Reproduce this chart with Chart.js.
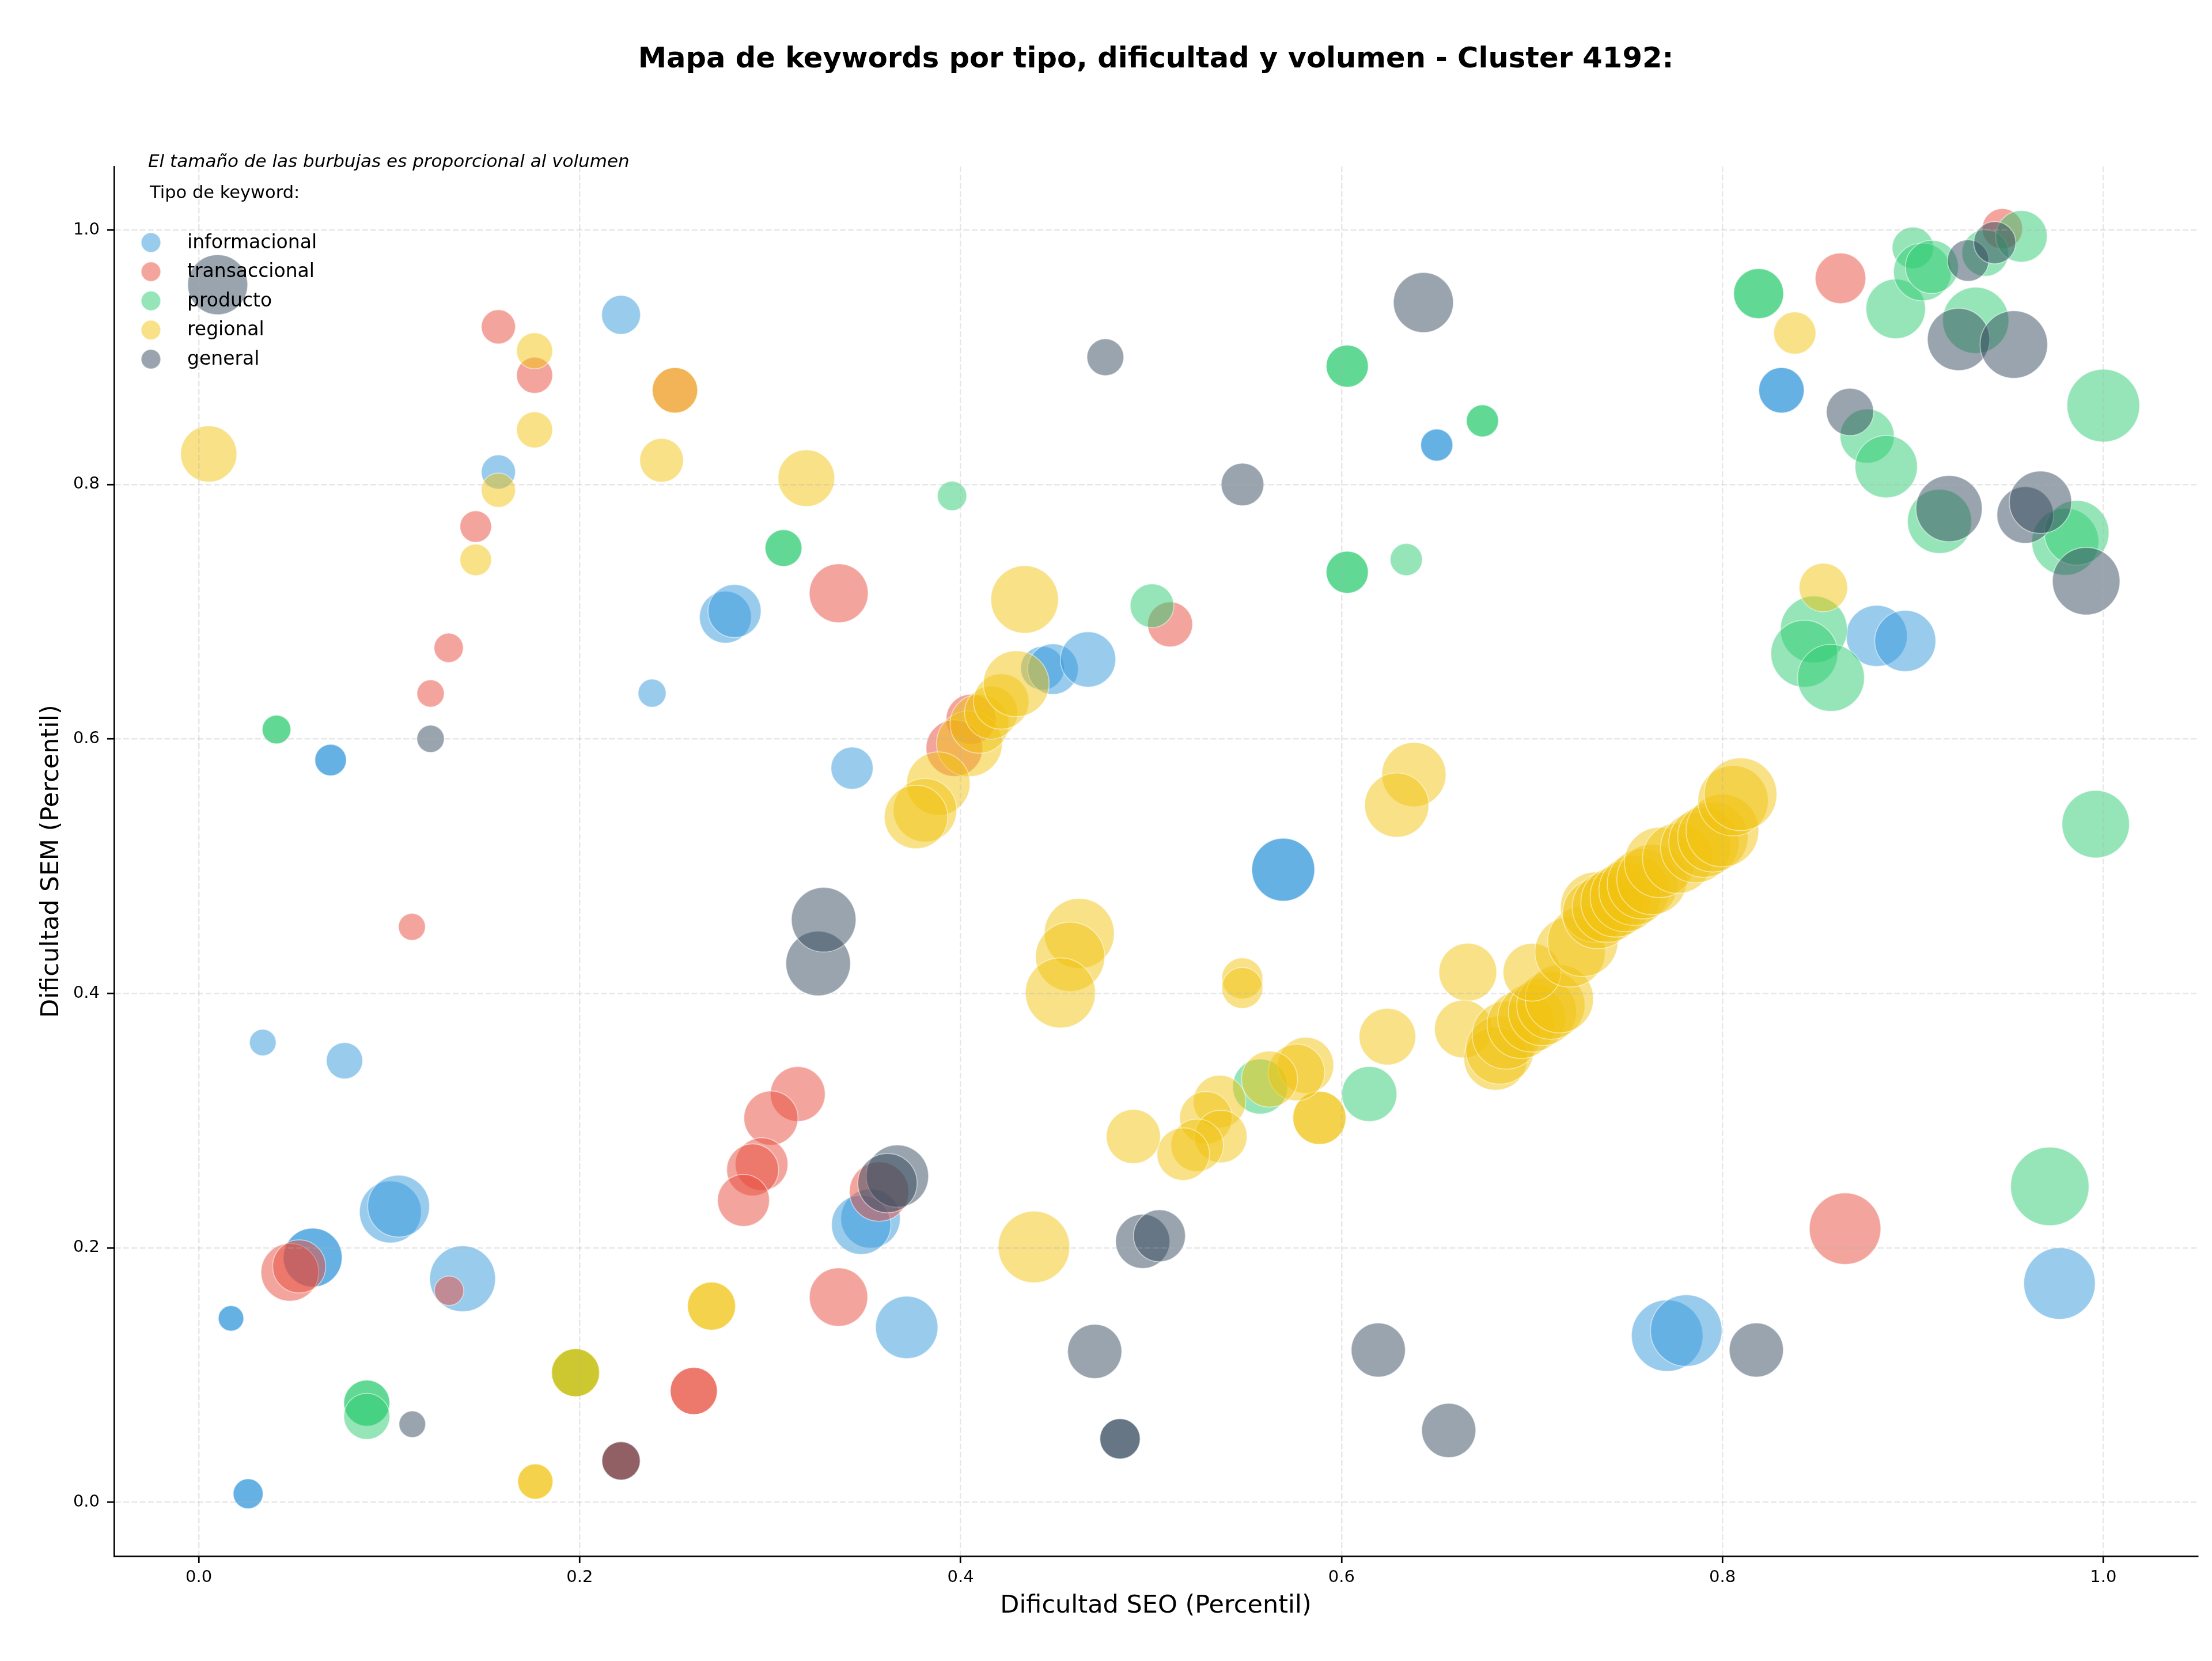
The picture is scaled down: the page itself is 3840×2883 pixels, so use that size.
<!DOCTYPE html>
<html>
<head>
<meta charset="utf-8">
<script src="https://cdn.jsdelivr.net/npm/chart.js@4.4.1/dist/chart.umd.min.js"></script>
<style>
  html, body { margin: 0; padding: 0; background: #ffffff; }
  #wrap { width: 3840px; height: 2883px; }
</style>
</head>
<body>
<div id="wrap"><canvas id="chart" width="3840" height="2883"></canvas></div>
<script>
// Mapa de keywords - bubble chart (x: dificultad SEO, y: dificultad SEM, tamaño: volumen)

const categories = ['informacional', 'transaccional', 'producto', 'regional', 'general'];
const colors = ['#3498db', '#e74c3c', '#2ecc71', '#f1c40f', '#34495e'];

const xTickValues = [0, 0.2, 0.4, 0.6, 0.8, 1.0];
const yTickValues = [0, 0.2, 0.4, 0.6, 0.8, 1.0];

// [dificultad SEO, dificultad SEM, volumen]
const informacional = [
    [0.2217, 0.9333, 790], [0.1573, 0.8098, 610],
    [0.0692, 0.5834, 520], [0.0692, 0.5834, 520],
    [0.2380, 0.6360, 410], [0.2765, 0.6957, 1410], [0.2813, 0.7005, 1470],
    [0.3430, 0.5770, 930], [0.4430, 0.6556, 1000], [0.4485, 0.6549, 1340],
    [0.4669, 0.6625, 1600],
    [0.6500, 0.8310, 540], [0.6500, 0.8310, 540],
    [0.8310, 0.8740, 1080], [0.8310, 0.8740, 1080],
    [0.8810, 0.6810, 1950], [0.8960, 0.6770, 1950],
    [0.5694, 0.4972, 2070], [0.5694, 0.4972, 2070],
    [0.0336, 0.3614, 370], [0.0765, 0.3471, 690],
    [0.1006, 0.2282, 2000], [0.1049, 0.2328, 2000], [0.1385, 0.1757, 2260],
    [0.0598, 0.1924, 1810], [0.0598, 0.1924, 1810],
    [0.0169, 0.1446, 340], [0.0169, 0.1446, 340],
    [0.0259, 0.0067, 470], [0.0259, 0.0067, 470],
    [0.3527, 0.2231, 1840], [0.3478, 0.2182, 1840], [0.3717, 0.1375, 2030],
    [0.7710, 0.1310, 2670], [0.7810, 0.1350, 2670], [0.9770, 0.1720, 2670]
];

const transaccional = [
    [0.1573, 0.9239, 610], [0.1763, 0.8858, 680], [0.1454, 0.7669, 520],
    [0.1312, 0.6716, 450], [0.1217, 0.6357, 390], [0.2500, 0.8740, 1080],
    [0.3360, 0.7145, 1810], [0.5100, 0.6900, 1060], [0.8620, 0.9620, 1340],
    [0.9470, 1.0010, 850], [0.4055, 0.6155, 1310], [0.3967, 0.5928, 1670],
    [0.1119, 0.4523, 380], [0.1314, 0.1663, 450],
    [0.0478, 0.1808, 1740], [0.0527, 0.1854, 1470],
    [0.3145, 0.3209, 1570], [0.3004, 0.3020, 1530], [0.2955, 0.2658, 1450],
    [0.2908, 0.2613, 1410], [0.2860, 0.2373, 1410], [0.3572, 0.2442, 1840],
    [0.3359, 0.1613, 1780],
    [0.2599, 0.0875, 1160], [0.2599, 0.0875, 1160],
    [0.2217, 0.0326, 770], [0.2217, 0.0326, 770],
    [0.8644, 0.2151, 2670]
];

const producto = [
    [0.0408, 0.6074, 430], [0.0408, 0.6074, 430],
    [0.3070, 0.7500, 710], [0.3070, 0.7500, 710],
    [0.3955, 0.7910, 450], [0.5005, 0.7047, 1000],
    [0.6030, 0.8930, 930], [0.6030, 0.8930, 930],
    [0.6740, 0.8500, 540], [0.6740, 0.8500, 540],
    [0.6030, 0.7310, 930], [0.6030, 0.7310, 930],
    [0.6340, 0.7410, 540],
    [0.8190, 0.9500, 1310], [0.8190, 0.9500, 1310],
    [0.8760, 0.8380, 1530], [0.8860, 0.8140, 2030], [0.8910, 0.9380, 1850],
    [0.9000, 0.9860, 900], [0.9050, 0.9670, 1740], [0.9100, 0.9710, 1470],
    [0.9380, 0.9820, 1140], [0.9570, 0.9950, 1390], [0.9330, 0.9290, 2290],
    [1.0000, 0.8620, 2760], [0.9140, 0.7710, 2150], [0.9800, 0.7550, 2340],
    [0.9860, 0.7620, 2180], [0.8480, 0.6860, 2340], [0.8430, 0.6670, 2340],
    [0.8570, 0.6480, 2340], [0.9960, 0.5330, 2380], [0.9719, 0.2483, 3210],
    [0.1978, 0.1019, 1210], [0.1978, 0.1019, 1210],
    [0.0882, 0.0780, 1110], [0.0882, 0.0780, 1110], [0.0882, 0.0676, 1110],
    [0.6146, 0.3209, 1580], [0.5573, 0.3268, 1580]
];

const regional = [
    [0.0052, 0.8240, 1650], [0.1763, 0.9050, 680], [0.1763, 0.8429, 680],
    [0.1573, 0.7955, 610], [0.1454, 0.7407, 520], [0.2500, 0.8740, 1080],
    [0.2430, 0.8190, 1000], [0.3190, 0.8050, 1670], [0.4336, 0.7096, 2380],
    [0.8530, 0.7190, 1230], [0.8380, 0.9190, 930],
    [0.4046, 0.5963, 2260], [0.4099, 0.6119, 1810], [0.4160, 0.6207, 1470],
    [0.4213, 0.6294, 1600], [0.4292, 0.6434, 2260], [0.3883, 0.5649, 2100],
    [0.3813, 0.5440, 2100], [0.3766, 0.5387, 2100],
    [0.6380, 0.5720, 2150], [0.6290, 0.5480, 2150],
    [0.4623, 0.4471, 2560], [0.4575, 0.4288, 2500], [0.4524, 0.4004, 2560],
    [0.5479, 0.4118, 880], [0.5479, 0.4043, 880], [0.6241, 0.3660, 1670],
    [0.5884, 0.3022, 1470], [0.5884, 0.3022, 1470],
    [0.5812, 0.3435, 1640], [0.5763, 0.3379, 1670], [0.5622, 0.3326, 1640],
    [0.5360, 0.3150, 1440], [0.5288, 0.3022, 1440], [0.5366, 0.2875, 1440],
    [0.5242, 0.2806, 1440], [0.5169, 0.2737, 1440], [0.4907, 0.2875, 1530],
    [0.6663, 0.4167, 1740], [0.6640, 0.3720, 1740],
    [0.6809, 0.3488, 2100], [0.6831, 0.3555, 2420], [0.6865, 0.3672, 2420],
    [0.6943, 0.3756, 2420], [0.6999, 0.3807, 2420], [0.7055, 0.3857, 2420],
    [0.7099, 0.3907, 2420], [0.7144, 0.3957, 2420], [0.7000, 0.4166, 1740],
    [0.7200, 0.4326, 2580], [0.7267, 0.4409, 2580], [0.7334, 0.4677, 2580],
    [0.7345, 0.4627, 2580], [0.7396, 0.4677, 2580], [0.7441, 0.4719, 2580],
    [0.7490, 0.4761, 2580], [0.7536, 0.4811, 2580], [0.7580, 0.4861, 2580],
    [0.7630, 0.4895, 2580], [0.7670, 0.5029, 2580], [0.7765, 0.5062, 2580],
    [0.7860, 0.5146, 2580], [0.7903, 0.5188, 2580], [0.7950, 0.5230, 2580],
    [0.8000, 0.5280, 2760], [0.8056, 0.5514, 2580], [0.8095, 0.5565, 2760],
    [0.4385, 0.2007, 2670],
    [0.2692, 0.1542, 1210], [0.2692, 0.1542, 1210],
    [0.1767, 0.0163, 650], [0.1767, 0.0163, 650],
    [0.1978, 0.1019, 1210], [0.1978, 0.1019, 1210]
];

const general = [
    [0.0099, 0.9570, 1880], [0.1217, 0.6001, 390], [0.4760, 0.9000, 710],
    [0.5480, 0.8000, 950], [0.6430, 0.9430, 1880], [0.8670, 0.8570, 1170],
    [0.9290, 0.9760, 900], [0.9430, 0.9900, 930], [0.9240, 0.9140, 2030],
    [0.9530, 0.9100, 2380], [0.9190, 0.7810, 2290], [0.9590, 0.7760, 1670],
    [0.9670, 0.7860, 2030], [0.9910, 0.7240, 2380],
    [0.3252, 0.4235, 2180], [0.3281, 0.4579, 2180],
    [0.3668, 0.2564, 2030], [0.3616, 0.2509, 1840],
    [0.1121, 0.0614, 370], [0.2217, 0.0326, 770], [0.4704, 0.1186, 1530],
    [0.4837, 0.0499, 850], [0.4837, 0.0499, 850],
    [0.4956, 0.2051, 1530], [0.5044, 0.2095, 1410],
    [0.6193, 0.1197, 1530], [0.6563, 0.0565, 1530], [0.8178, 0.1197, 1530]
];

const seriesData = [informacional, transaccional, producto, regional, general];

const FONT = "'DejaVu Sans', sans-serif";
const titleText = 'Mapa de keywords por tipo, dificultad y volumen - Cluster 4192:';
const noteText = 'El tamaño de las burbujas es proporcional al volumen';
const legendTitle = 'Tipo de keyword:';

function hexToRgba(hex, a) {
    const n = parseInt(hex.slice(1), 16);
    return `rgba(${(n >> 16) & 255}, ${(n >> 8) & 255}, ${n & 255}, ${a})`;
}

// bubble radius (px) from volume
const sizeFromVolume = v => Math.sqrt(v) * 1.2;

// Texts and legend drawn on top of the plot
const overlayPlugin = {
    id: 'overlay',
    afterDraw(chart) {
        const ctx = chart.ctx;
        const area = chart.chartArea;
        const cx = (area.left + area.right) / 2;
        const cy = (area.top + area.bottom) / 2;
        ctx.save();
        ctx.fillStyle = '#000';

        ctx.font = `bold 49.6px ${FONT}`;
        ctx.textAlign = 'center';
        ctx.textBaseline = 'alphabetic';
        ctx.fillText(titleText, cx, 117);

        ctx.font = `italic 31px ${FONT}`;
        ctx.textAlign = 'left';
        ctx.fillText(noteText, 257, 290);

        ctx.font = `30.5px ${FONT}`;
        ctx.fillText(legendTitle, 260, 344);

        ctx.font = `33px ${FONT}`;
        ctx.textBaseline = 'middle';
        categories.forEach((name, i) => {
            const y = 421 + i * 50.6;
            ctx.beginPath();
            ctx.arc(262, y, 17, 0, Math.PI * 2);
            ctx.fillStyle = hexToRgba(colors[i], 0.5);
            ctx.fill();
            ctx.lineWidth = 1.7;
            ctx.strokeStyle = 'rgba(255,255,255,0.5)';
            ctx.stroke();
            ctx.fillStyle = '#000';
            ctx.fillText(name, 325, y + 1);
        });

        ctx.font = `43px ${FONT}`;
        ctx.textAlign = 'center';
        ctx.fillText('Dificultad SEO (Percentil)', cx, 2788);

        ctx.translate(90, cy);
        ctx.rotate(-Math.PI / 2);
        ctx.fillText('Dificultad SEM (Percentil)', 0, 0);
        ctx.restore();
    }
};

const datasets = categories.map((name, i) => ({
    label: name,
    data: seriesData[i].map(p => ({ x: p[0], y: p[1], r: sizeFromVolume(p[2]) })),
    backgroundColor: hexToRgba(colors[i], 0.5),
    borderColor: 'rgba(255, 255, 255, 0.5)',
    borderWidth: 1.7,
    order: categories.length - i   // later categories drawn on top
}));

const axisCommon = {
    type: 'linear',
    ticks: {
        font: { family: FONT, size: 29 },
        color: '#000',
        autoSkip: false,
        maxRotation: 0,
        includeBounds: false,
        callback: v => v.toFixed(1)
    },
    grid: {
        color: 'rgba(176, 176, 176, 0.3)',
        lineWidth: 2.5,
        drawTicks: true,
        tickLength: 12,
        tickWidth: 2.7,
        tickColor: '#000',
        z: 1
    },
    border: { display: true, color: '#000', width: 2.7, dash: [10, 4.3], z: 1 }
};

new Chart(document.getElementById('chart'), {
    type: 'bubble',
    data: { datasets },
    options: {
        responsive: false,
        devicePixelRatio: 1,
        animation: false,
        events: [],
        layout: { autoPadding: false, padding: { top: 289, right: 25, bottom: 0, left: 0 } },
        plugins: {
            legend: { display: false },
            title: { display: false },
            tooltip: { enabled: false }
        },
        scales: {
            x: {
                ...axisCommon,
                position: 'bottom',
                min: -0.0445,
                max: 1.0495,
                ticks: { ...axisCommon.ticks, padding: 8 },
                afterBuildTicks: s => { s.ticks = xTickValues.map(v => ({ value: v })); },
                afterFit: s => { s.height = 182; }
            },
            y: {
                ...axisCommon,
                position: 'left',
                min: -0.0423,
                max: 1.0499,
                ticks: { ...axisCommon.ticks, padding: 13 },
                afterBuildTicks: s => { s.ticks = yTickValues.map(v => ({ value: v })); },
                afterFit: s => { s.width = 198; }
            }
        }
    },
    plugins: [overlayPlugin]
});
</script>
</body>
</html>
